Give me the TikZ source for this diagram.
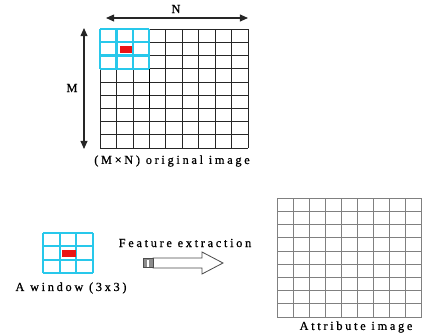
\documentclass[tikz,border=0pt]{standalone}
\usepackage{fontspec}
\setmainfont{Liberation Serif}
\newfontfamily\spacedfont{Liberation Serif}[LetterSpace=22, FakeBold=0.8]
\usetikzlibrary{arrows.meta}

\definecolor{wincyan}{RGB}{40,200,235}
\definecolor{centerred}{RGB}{235,20,20}

\begin{document}
\begin{tikzpicture}[
		x=0.03cm, y=-0.03cm,
		gridline/.style={draw=black!85, line width=0.6pt},
		attrline/.style={draw=black!50, line width=0.5pt},
		winline/.style={draw=wincyan, line width=1.8pt},
		centercell/.style={fill=centerred, draw=none},
		dimarrow/.style={{Triangle[length=7pt,width=6pt]}-{Triangle[length=7pt,width=6pt]}, line width=1pt, black!85},
		label/.style={font=\spacedfont\fontsize{10.5}{12}\selectfont, inner sep=1pt},
		blockarrow/.style={draw=black!70, fill=white, line width=0.7pt}
		]
		\useasboundingbox (0,0) rectangle (422,334);
		
		% Original image (M x N)
		\foreach \i in {0,...,9} {
			\draw[gridline] ({100+\i*16.444},29) -- ({100+\i*16.444},148);
			\draw[gridline] (100,{29+\i*13.222}) -- (248,{29+\i*13.222});
		}
		\foreach \i in {0,...,3} {
			\draw[winline] ({100+\i*16.444},29) -- ({100+\i*16.444},68.7);
			\draw[winline] (100,{29+\i*13.222}) -- (149.3,{29+\i*13.222});
		}
		\fill[centercell] (120,45.5) rectangle (131.5,52.5);
		\draw[black, line width=1.2pt] (149.3,68.7) -- (149.3,108);
		
		% Dimensions
		\coordinate (nleft) at (106,18);
		\coordinate (nright) at (248,18);
		\coordinate (mtop) at (84,28);
		\coordinate (mbottom) at (84,149);
		\draw[dimarrow] (nleft) -- (nright);
		\draw[dimarrow] (mtop) -- (mbottom);
		\node[label] (nlabel) at (176,9) {N};
		\node[label] (mlabel) at (72,88) {M};
		\node[label] (origcap) at (172,161) {(M×N) original image};
		
		% Window (3x3)
		\foreach \i in {0,...,3} {
			\draw[winline] ({43+\i*16.667},233) -- ({43+\i*16.667},273);
			\draw[winline] (43,{233+\i*13.333}) -- (93,{233+\i*13.333});
		}
		\fill[centercell] (62,250) rectangle (75.5,257);
		\node[label] (wincap) at (71,288) {A window (3x3)};
		
		% Feature extraction arrow
		\node[label] (featlabel) at (185,243) {Feature extraction};
		\coordinate (tailtop) at (153,258);
		\coordinate (tailbot) at (153,268);
		\coordinate (tip) at (223,263);
		\draw[blockarrow] (tailtop) -- (202,258) -- (202,252) -- (tip)
			-- (202,274) -- (202,268) -- (tailbot) -- cycle;
		\draw[draw=black!70, fill=black!45, line width=0.5pt] (143,258.5) rectangle (153,267.5);
		\fill[white] (146.5,259.5) rectangle (148.5,266.5);
		
		% Attribute image
		\foreach \i in {0,...,9} {
			\draw[attrline] ({277+\i*16.05},198) -- ({277+\i*16.05},317);
			\draw[attrline] (277,{198+\i*13.222}) -- (421.5,{198+\i*13.222});
		}
		\node[label] (attrcap) at (356,327) {Attribute image};
	\end{tikzpicture}
\end{document}
